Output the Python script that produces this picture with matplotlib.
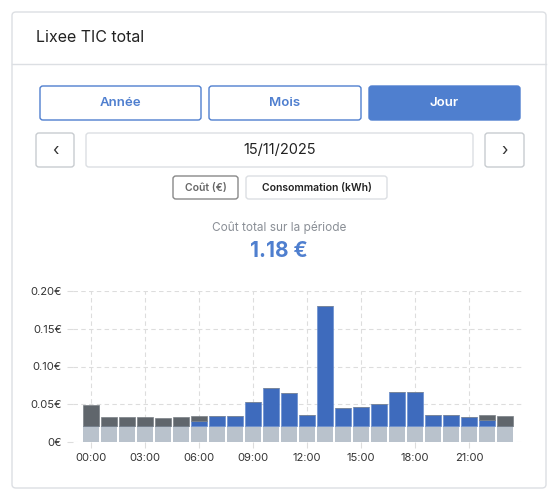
import matplotlib.pyplot as plt
from matplotlib.patches import FancyBboxPatch
import numpy as np

plt.rcParams['font.family'] = ['Inter', 'DejaVu Sans']

hours = np.arange(24)
hour_labels = ["00:00", "03:00", "06:00", "09:00", "12:00", "15:00", "18:00", "21:00"]
# abonnement (base) + heures creuses + heures pleines, in €
base = [0.0215] * 24
hc = [0.0271, 0.0121, 0.0121, 0.0116, 0.0098, 0.0116, 0.0066, 0, 0, 0, 0, 0, 0, 0,
      0, 0, 0, 0, 0, 0, 0, 0, 0.0057, 0.0129]
hp = [0, 0, 0, 0, 0, 0, 0.0063, 0.0129, 0.0129, 0.0319, 0.0505, 0.0434, 0.0147, 0.1585,
      0.0240, 0.0253, 0.0293, 0.0452, 0.0452, 0.0147, 0.0147, 0.0121, 0.0081, 0]
total_label = "1.18 €"

W, H = 558, 500
fig = plt.figure(figsize=(W / 100, H / 100), dpi=100)
fig.patch.set_facecolor("white")
BLUE = "#4f7fcf"


def box(x0, y0, x1, y1, fc="white", ec="#c8ccd0", lw=1, r=3):
    p = FancyBboxPatch((x0 / W, 1 - y1 / H), (x1 - x0) / W, (y1 - y0) / H,
                       boxstyle=f"round,pad=0,rounding_size={r / W}",
                       transform=fig.transFigure, fc=fc, ec=ec, lw=lw)
    fig.add_artist(p)


def txt(x, y, s, **kw):
    fig.text(x / W, 1 - y / H, s, va="center", **kw)


# card
box(12, 12, 546, 488, ec="#dcdfe3", r=4)
fig.add_artist(plt.Line2D([12 / W, 546 / W], [1 - 64 / H] * 2, color="#dcdfe3", lw=1))
txt(36, 38, "Lixee TIC total", fontsize=11.5, color="#222222")

# period buttons
box(40, 86, 201, 120, ec=BLUE)
txt(120.5, 103, "Année", ha="center", fontsize=9.5, color=BLUE, fontweight="semibold")
box(209, 86, 361, 120, ec=BLUE)
txt(285, 103, "Mois", ha="center", fontsize=9.5, color=BLUE, fontweight="semibold")
box(369, 86, 520, 120, fc=BLUE, ec=BLUE)
txt(444.5, 103, "Jour", ha="center", fontsize=9.5, color="white", fontweight="semibold")

# date navigation
box(36, 133, 74, 167)
txt(55, 150, "‹", ha="center", fontsize=12, color="#333333")
box(86, 133, 473, 167, ec="#dcdfe3")
txt(279.5, 150, "15/11/2025", ha="center", fontsize=10.5, color="#222222")
box(485, 133, 524, 167)
txt(504.5, 150, "›", ha="center", fontsize=12, color="#333333")

# unit toggle
box(173, 176, 238, 199, ec="#888888")
txt(205.5, 187.5, "Coût (€)", ha="center", fontsize=7.5, color="#666666", fontweight="semibold")
box(246, 176, 387, 199, ec="#dcdfe3")
txt(316.5, 187.5, "Consommation (kWh)", ha="center", fontsize=7.5, color="#222222", fontweight="semibold")

txt(279, 228, "Coût total sur la période", ha="center", fontsize=8.5, color="#8a8f96")
txt(279, 251, total_label, ha="center", fontsize=15, color=BLUE, fontweight="bold")

# chart
ax = fig.add_axes([73 / W, 58 / H, 450 / W, 151 / H])
ax.set_zorder(5)
ax.patch.set_alpha(0)
b = np.array(base)
c = np.array(hc)
p = np.array(hp)
ax.bar(hours, b, width=0.88, color="#b9c2cc", zorder=2)
ax.bar(hours, p, width=0.88, bottom=b, color="#3e6bbd", edgecolor="#6a8fd0", lw=0.5, zorder=2)
ax.bar(hours, c, width=0.88, bottom=b + p, color="#60666c", edgecolor="#7a8086", lw=0.5, zorder=2)
ax.set_xlim(-1, 24)
ax.set_ylim(0, 0.2)
ax.set_xticks(range(0, 24, 3))
ax.set_xticklabels(hour_labels)
ax.set_yticks([0, 0.05, 0.10, 0.15, 0.20])
ax.set_yticklabels(["0€", "0.05€", "0.10€", "0.15€", "0.20€"])
ax.grid(True, ls=(0, (4, 3)), color="#dddddd", lw=0.8, zorder=0)
for s in ax.spines.values():
    s.set_visible(False)
ax.tick_params(length=4, color="#dddddd", labelsize=8, labelcolor="#333333", pad=4)

fig.savefig("out.png", dpi=100)
